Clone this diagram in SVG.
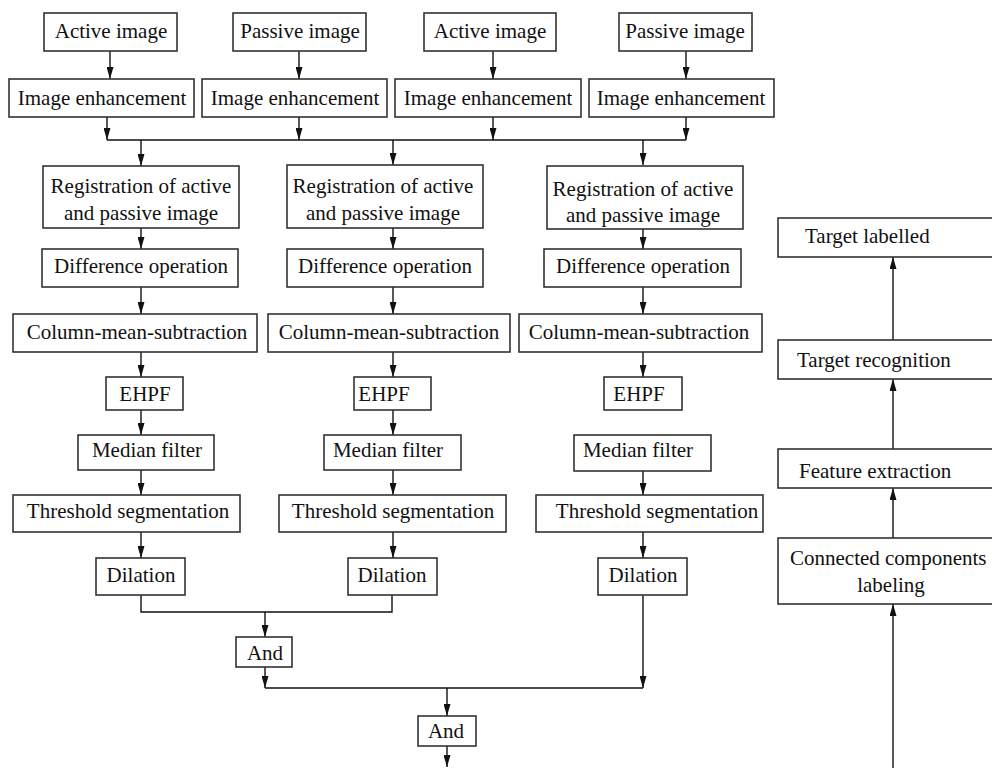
<svg xmlns="http://www.w3.org/2000/svg" width="992" height="768" viewBox="0 0 992 768">
<defs>
<marker id="ah" markerUnits="userSpaceOnUse" markerWidth="12" markerHeight="7" refX="12" refY="3.5" orient="auto">
<path d="M0,0 L12,3.5 L0,7 z" fill="#111"/>
</marker>
</defs>
<style>
rect{fill:#fff;stroke:#333;stroke-width:1.6}
text{font-family:"Liberation Serif","Times New Roman",serif;font-size:21px;fill:#111;text-anchor:middle}
text.l{text-anchor:start}
.c path{fill:none;stroke:#111;stroke-width:1.4}
.c path.a{marker-end:url(#ah)}
</style>
<rect x="0" y="0" width="992" height="768" style="fill:#fff;stroke:none"/>

<g class="c" id="connectors">
<path class="a" d="M110,51 V79"/>
<path class="a" d="M299,51 V79"/>
<path class="a" d="M493,51 V79"/>
<path class="a" d="M686,51 V79"/>
<path class="a" d="M107,117 V140"/>
<path class="a" d="M299,117 V140"/>
<path class="a" d="M493,117 V140"/>
<path class="a" d="M686,117 V140"/>
<path d="M107,140 H686"/>
<path class="a" d="M141,140 V166"/>
<path class="a" d="M393,140 V165"/>
<path class="a" d="M643,140 V165"/>
<path class="a" d="M141,228 V249"/>
<path class="a" d="M393,228 V249"/>
<path class="a" d="M643,229 V249"/>
<path class="a" d="M141,287 V314"/>
<path class="a" d="M393,287 V314"/>
<path class="a" d="M643,287 V314"/>
<path class="a" d="M141,352 V377"/>
<path class="a" d="M393,352 V377"/>
<path class="a" d="M643,352 V377"/>
<path class="a" d="M141,410 V435"/>
<path class="a" d="M393,410 V435"/>
<path class="a" d="M141,470 V495"/>
<path class="a" d="M393,470 V495"/>
<path class="a" d="M643,471 V495"/>
<path class="a" d="M141,532 V558"/>
<path class="a" d="M393,532 V558"/>
<path class="a" d="M643,532 V558"/>
<path d="M141,595 V612 H392 V595"/>
<path class="a" d="M265,612 V637"/>
<path class="a" d="M265,667 V688"/>
<path class="a" d="M643,595 V688"/>
<path d="M265,688 H643"/>
<path class="a" d="M447,688 V716"/>
<path class="a" d="M447,746 V767"/>
<path class="a" d="M893,768 V604"/>
<path class="a" d="M893,538 V488"/>
<path class="a" d="M893,449 V379"/>
<path class="a" d="M893,340 V257"/>
</g>

<g id="active1"><rect x="44" y="13" width="133" height="38"/><text x="111" y="38">Active image</text></g>
<g id="passive1"><rect x="233" y="13" width="133" height="38"/><text x="300" y="38">Passive image</text></g>
<g id="active2"><rect x="424" y="13" width="132" height="38"/><text x="490" y="38">Active image</text></g>
<g id="passive2"><rect x="619" y="13" width="133" height="38"/><text x="685" y="38">Passive image</text></g>

<g id="enh1"><rect x="9" y="79" width="185" height="38"/><text x="102" y="105">Image enhancement</text></g>
<g id="enh2"><rect x="202" y="79" width="185" height="38"/><text x="295" y="105">Image enhancement</text></g>
<g id="enh3"><rect x="395" y="79" width="186" height="38"/><text x="488" y="105">Image enhancement</text></g>
<g id="enh4"><rect x="589" y="79" width="185" height="38"/><text x="681" y="105">Image enhancement</text></g>

<g id="reg1"><rect x="43" y="166" width="196" height="62"/><text x="141" y="193">Registration of active</text><text x="141" y="220">and passive image</text></g>
<g id="reg2"><rect x="287" y="165" width="196" height="63"/><text x="383" y="193">Registration of active</text><text x="383" y="220">and passive image</text></g>
<g id="reg3"><rect x="547" y="166" width="196" height="63"/><text x="643" y="196">Registration of active</text><text x="643" y="222">and passive image</text></g>

<g id="diff1"><rect x="42" y="249" width="196" height="38"/><text x="141" y="273">Difference operation</text></g>
<g id="diff2"><rect x="287" y="249" width="196" height="38"/><text x="385" y="273">Difference operation</text></g>
<g id="diff3"><rect x="544" y="249" width="197" height="38"/><text x="643" y="273">Difference operation</text></g>

<g id="col1"><rect x="13" y="314" width="244" height="38"/><text x="137" y="339">Column-mean-subtraction</text></g>
<g id="col2"><rect x="268" y="314" width="242" height="38"/><text x="389" y="339">Column-mean-subtraction</text></g>
<g id="col3"><rect x="519" y="314" width="243" height="38"/><text x="639" y="339">Column-mean-subtraction</text></g>

<g id="ehpf1"><rect x="106" y="377" width="77" height="33"/><text x="145" y="401">EHPF</text></g>
<g id="ehpf2"><rect x="354" y="377" width="77" height="33"/><text x="384" y="401">EHPF</text></g>
<g id="ehpf3"><rect x="604" y="377" width="78" height="33"/><text x="639" y="401">EHPF</text></g>

<g id="med1"><rect x="78" y="435" width="136" height="35"/><text x="147" y="457">Median filter</text></g>
<g id="med2"><rect x="324" y="435" width="137" height="35"/><text x="388" y="457">Median filter</text></g>
<g id="med3"><rect x="574" y="435" width="137" height="36"/><text x="638" y="457">Median filter</text></g>

<g id="thr1"><rect x="13" y="495" width="227" height="37"/><text x="128" y="518">Threshold segmentation</text></g>
<g id="thr2"><rect x="279" y="495" width="227" height="37"/><text x="393" y="518">Threshold segmentation</text></g>
<g id="thr3"><rect x="536" y="495" width="227" height="37"/><text x="657" y="518">Threshold segmentation</text></g>

<g id="dil1"><rect x="96" y="558" width="89" height="37"/><text x="141" y="582">Dilation</text></g>
<g id="dil2"><rect x="348" y="558" width="89" height="37"/><text x="392" y="582">Dilation</text></g>
<g id="dil3"><rect x="598" y="558" width="89" height="37"/><text x="643" y="582">Dilation</text></g>

<g id="and1"><rect x="236" y="637" width="56" height="30"/><text x="265" y="660">And</text></g>
<g id="and2"><rect x="418" y="716" width="58" height="30"/><text x="446" y="738">And</text></g>

<g id="labelled"><rect x="778" y="218" width="230" height="39"/><text class="l" x="805" y="243">Target labelled</text></g>
<g id="recognition"><rect x="778" y="340" width="230" height="39"/><text class="l" x="797" y="367">Target recognition</text></g>
<g id="feature"><rect x="778" y="449" width="230" height="39"/><text class="l" x="799" y="478">Feature extraction</text></g>
<g id="ccl"><rect x="778" y="538" width="230" height="66"/><text class="l" x="790" y="565">Connected components</text><text x="891" y="592">labeling</text></g>
</svg>
